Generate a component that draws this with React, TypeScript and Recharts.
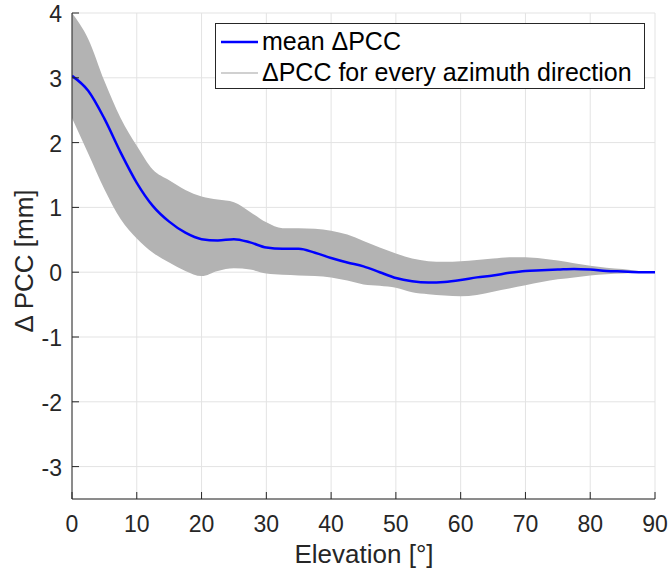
import { ComposedChart, Area, Line, XAxis, YAxis, CartesianGrid, Label } from 'recharts';

const elevation = [0, 2.5, 5, 7.5, 10, 12.5, 15, 17.5, 20, 22.5, 25, 27.5, 30, 32.5, 35, 37.5, 40, 42.5, 45, 47.5, 50, 52.5, 55, 57.5, 60, 62.5, 65, 67.5, 70, 72.5, 75, 77.5, 80, 82.5, 85, 87.5, 90];
const meanPcc = [3.03, 2.8, 2.37, 1.85, 1.38, 1.02, 0.78, 0.61, 0.51, 0.49, 0.51, 0.46, 0.38, 0.36, 0.36, 0.3, 0.22, 0.15, 0.09, 0.0, -0.09, -0.14, -0.16, -0.15, -0.12, -0.08, -0.05, -0.01, 0.02, 0.03, 0.04, 0.05, 0.04, 0.02, 0.01, 0.0, 0.0];
const lowerPcc = [2.38, 1.83, 1.28, 0.82, 0.52, 0.3, 0.15, 0.02, -0.06, 0.02, 0.06, 0.04, -0.02, -0.04, -0.05, -0.06, -0.08, -0.13, -0.19, -0.21, -0.24, -0.31, -0.34, -0.36, -0.37, -0.35, -0.3, -0.25, -0.2, -0.15, -0.11, -0.08, -0.05, -0.03, -0.02, -0.01, 0.0];
const upperPcc = [4.0, 3.6, 2.95, 2.38, 1.95, 1.58, 1.42, 1.27, 1.17, 1.12, 1.08, 0.93, 0.77, 0.68, 0.68, 0.67, 0.64, 0.58, 0.48, 0.38, 0.29, 0.21, 0.17, 0.16, 0.17, 0.19, 0.21, 0.23, 0.23, 0.21, 0.18, 0.14, 0.1, 0.07, 0.05, 0.02, 0.0];
const xTicks = [0, 10, 20, 30, 40, 50, 60, 70, 80, 90];
const yTicks = [-3, -2, -1, 0, 1, 2, 3, 4];
const legendNames = ['mean ΔPCC', 'ΔPCC for every azimuth direction'];

const data = elevation.map((e, i) => ({
  elevation: e,
  mean: meanPcc[i],
  band: [lowerPcc[i], upperPcc[i]],
}));

const FONT = '"Liberation Sans", Arial, Helvetica, sans-serif';
const AXIS = '#262626';
const X_MARGIN = 16;
const Y_MARGIN = 10;

function XTick(props: any) {
  const { x, y, payload } = props;
  const axisY = y - X_MARGIN;
  return (
    <g>
      <line x1={x} y1={axisY} x2={x} y2={axisY - 7} stroke={AXIS} strokeWidth={1} />
      <text x={x} y={axisY + 33} textAnchor="middle" fill={AXIS} fontSize={23} fontFamily={FONT}>
        {payload.value}
      </text>
    </g>
  );
}

function YTick(props: any) {
  const { x, y, payload } = props;
  const axisX = x + Y_MARGIN;
  return (
    <g>
      <line x1={axisX} y1={y} x2={axisX + 7} y2={y} stroke={AXIS} strokeWidth={1} />
      <text x={x} y={y + 9} textAnchor="end" fill={AXIS} fontSize={23} fontFamily={FONT}>
        {payload.value}
      </text>
    </g>
  );
}

function LegendBox() {
  const rows = [
    { name: legendNames[0], color: '#0000ff', width: 2.5 },
    { name: legendNames[1], color: '#d0d0d0', width: 2 },
  ];
  return (
    <div
      style={{
        position: 'absolute',
        left: 215,
        top: 23,
        width: 430,
        height: 66,
        border: `1px solid ${AXIS}`,
        background: '#fff',
        fontFamily: FONT,
        boxSizing: 'border-box',
        paddingTop: 2,
      }}
    >
      {rows.map((r, i) => (
        <div key={i} style={{ display: 'flex', alignItems: 'center', height: 31 }}>
          <svg width={42} height={10} style={{ marginLeft: 4, flexShrink: 0 }}>
            <line x1={1} y1={5} x2={38} y2={5} stroke={r.color} strokeWidth={r.width} />
          </svg>
          <span style={{ fontSize: 25, lineHeight: '31px', color: '#000', whiteSpace: 'nowrap' }}>{r.name}</span>
        </div>
      ))}
    </div>
  );
}

export default function App() {
  return (
    <div style={{ position: 'absolute', left: 0, top: 0, width: 669, height: 574, background: '#fff' }}>
      <ComposedChart width={669} height={574} data={data} margin={{ top: 13, right: 14, bottom: 45, left: 0 }}>
        <CartesianGrid stroke="#e3e3e3" strokeWidth={1} />
        <XAxis
          dataKey="elevation"
          type="number"
          domain={[0, 90]}
          ticks={xTicks}
          height={30}
          tickSize={0}
          tickMargin={X_MARGIN}
          tick={<XTick />}
          axisLine={{ stroke: AXIS, strokeWidth: 1 }}
          tickLine={false}
          allowDataOverflow
        >
          <Label
            content={() => (
              <text x={364} y={563} textAnchor="middle" fill={AXIS} fontSize={26} fontFamily={FONT}>
                Elevation [°]
              </text>
            )}
          />
        </XAxis>
        <YAxis
          type="number"
          domain={[-3.5, 4]}
          ticks={yTicks}
          width={72}
          tickSize={0}
          tickMargin={Y_MARGIN}
          tick={<YTick />}
          axisLine={{ stroke: AXIS, strokeWidth: 1 }}
          tickLine={false}
          allowDataOverflow
        >
          <Label
            content={() => (
              <text x={33} y={261} transform="rotate(-90 33 261)" textAnchor="middle" fill={AXIS} fontSize={26} fontFamily={FONT}>
                Δ PCC [mm]
              </text>
            )}
          />
        </YAxis>
        <Area
          dataKey="band"
          type="monotone"
          fill="#b3b3b3"
          fillOpacity={1}
          stroke="none"
          isAnimationActive={false}
          activeDot={false}
        />
        <Line
          dataKey="mean"
          type="monotone"
          stroke="#0000ff"
          strokeWidth={2.5}
          dot={false}
          isAnimationActive={false}
        />
      </ComposedChart>
      <LegendBox />
    </div>
  );
}
